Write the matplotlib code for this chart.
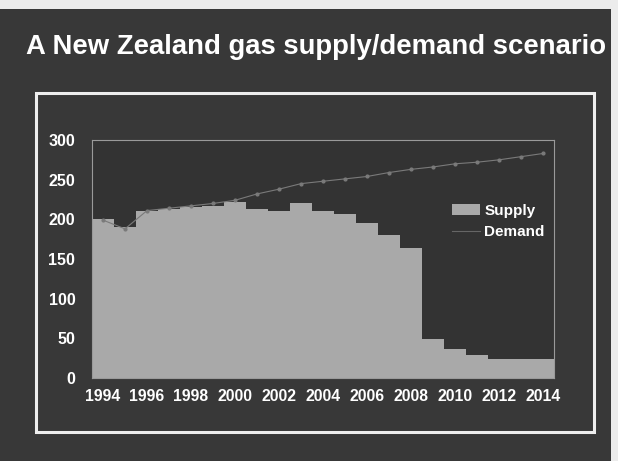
import matplotlib
matplotlib.use("Agg")
import matplotlib.pyplot as plt
from matplotlib.patches import Rectangle
from matplotlib.lines import Line2D
from matplotlib.patches import Patch

plt.rcParams['font.family'] = ['Liberation Sans', 'DejaVu Sans']

years = list(range(1994, 2015))
supply = [201, 190, 211, 213, 215, 217, 222, 213, 211, 221, 211, 207,
          195, 180, 164, 49, 37, 29, 24, 24, 24]
demand = [199, 188, 211, 214, 217, 220, 224, 232, 238, 245, 248, 251,
          254, 259, 263, 266, 270, 272, 275, 279, 283]
tick_years = list(range(1994, 2015, 2))
y_ticks = [0, 50, 100, 150, 200, 250, 300]

bg = "#383838"
fig = plt.figure(figsize=(6.18, 4.61), dpi=100, facecolor=bg)

# photo edges of the slide
fig.patches.append(Rectangle((0, 1 - 9 / 461), 1, 9 / 461, transform=fig.transFigure,
                             facecolor="#ececec", edgecolor="none", zorder=0))
fig.patches.append(Rectangle((611 / 618, 0), 7 / 618, 1, transform=fig.transFigure,
                             facecolor="#ececec", edgecolor="none", zorder=0))

# white frame round the chart
fig.patches.append(Rectangle((36 / 618, 29 / 461), 558 / 618, 339 / 461,
                             transform=fig.transFigure, fill=False,
                             edgecolor="#eeeeee", linewidth=2.2, zorder=1))

fig.text(316 / 618, 1 - 47 / 461, "A New Zealand gas supply/demand scenario",
         ha="center", va="center", color="white", fontsize=19.8, fontweight="bold")

ax = fig.add_axes([92 / 618, 83 / 461, 462 / 618, 238 / 461])
ax.set_facecolor("#333333")

ax.bar(years, supply, width=1.0, color="#a9a9a9", linewidth=0, zorder=2)
ax.plot(years, demand, color="#7a7a7a", linewidth=0.8, marker="o",
        markersize=2, zorder=3)

ax.set_xlim(1993.5, 2014.5)
ax.set_ylim(0, 300)
ax.set_yticks(y_ticks)
ax.set_xticks(tick_years)
ax.set_xticks([y + 0.5 for y in years[:-1]], minor=True)
ax.tick_params(axis="y", length=0, pad=12, labelsize=11.5, labelcolor="white")
ax.tick_params(axis="x", which="major", length=0, pad=8, labelsize=11.3, labelcolor="white")
ax.tick_params(axis="x", which="minor", direction="in", length=3, color="#cfcfcf")
for lbl in ax.get_xticklabels() + ax.get_yticklabels():
    lbl.set_fontweight("bold")
for s in ax.spines.values():
    s.set_color("#9a9a9a")
    s.set_linewidth(0.8)

handles = [Patch(facecolor="#a9a9a9", edgecolor="none", label="Supply"),
           Line2D([0], [0], color="#666666", linewidth=0.8, label="Demand")]
leg = ax.legend(handles=handles, loc="upper left", bbox_to_anchor=(0.75, 0.79),
                frameon=False, labelcolor="white", handlelength=1.8,
                handletextpad=0.3, labelspacing=0.5,
                prop={"weight": "bold", "size": 11})

fig.savefig("out.png", dpi=100, facecolor=bg)
